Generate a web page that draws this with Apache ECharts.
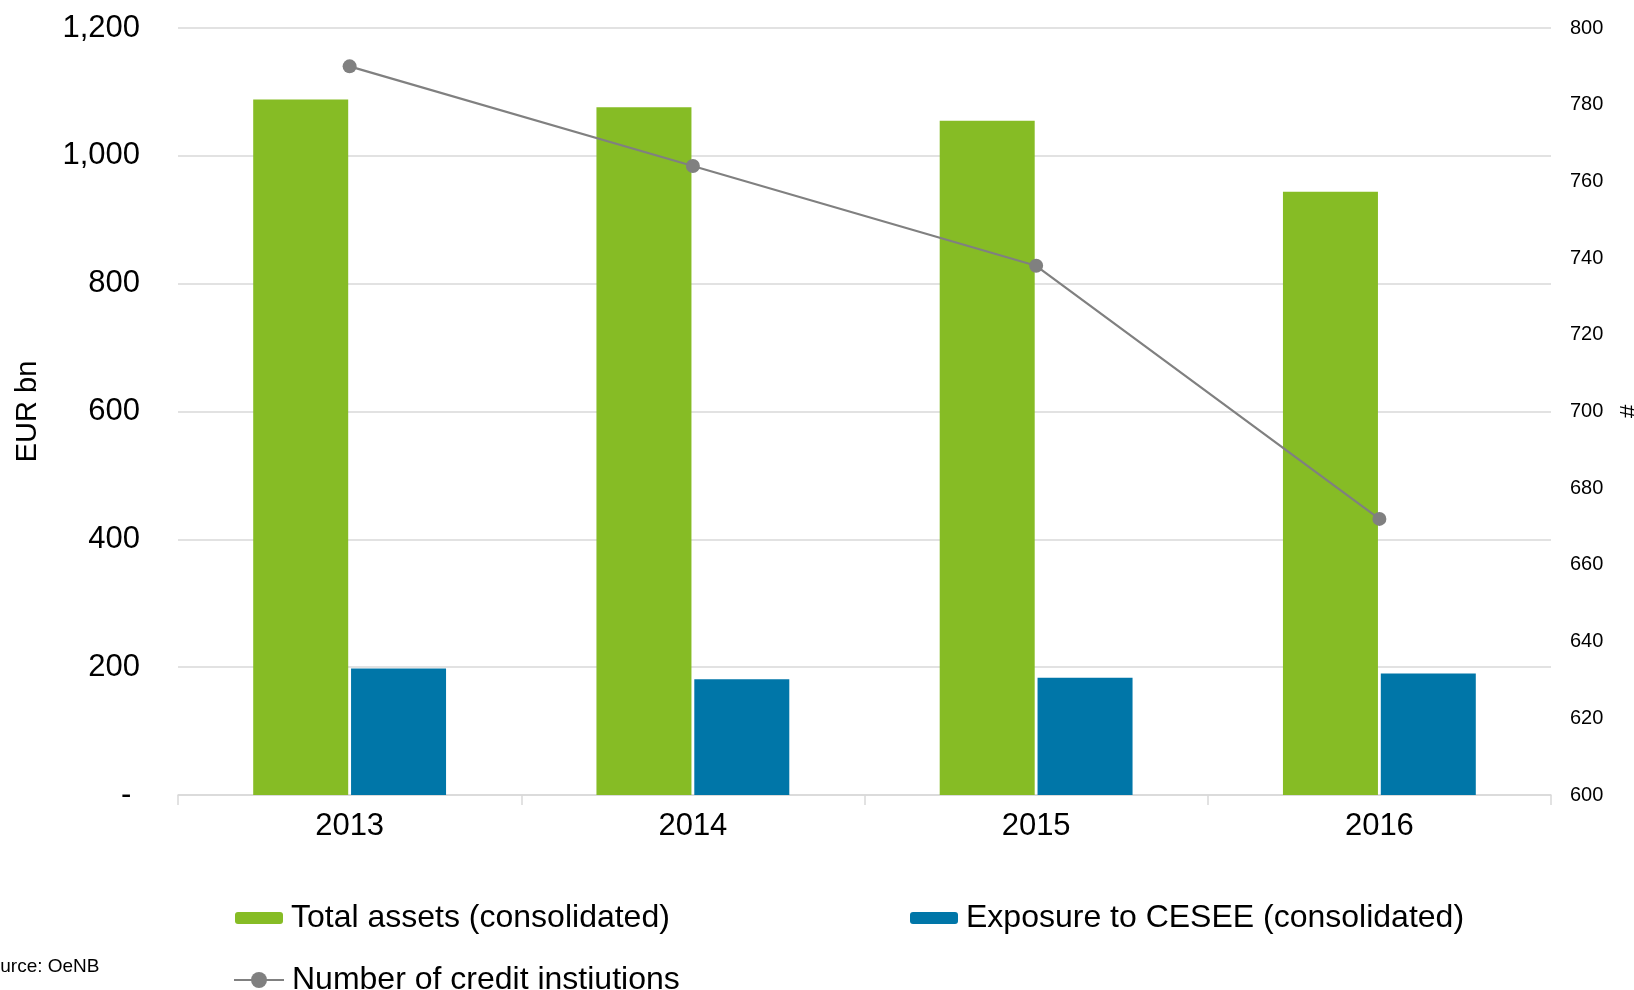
<!DOCTYPE html>
<html>
<head>
<meta charset="utf-8">
<title>Austrian banking sector</title>
<script src="https://cdn.jsdelivr.net/npm/echarts@6/dist/echarts.min.js"></script>
<style>
  html, body { margin: 0; padding: 0; background: #ffffff; }
  #chart { width: 1634px; height: 990px; }
</style>
</head>
<body>
<div id="chart"></div>
<script>
// Years on the category axis
const years = ['2013', '2014', '2015', '2016'];
// EUR bn, left axis
const totalAssets = [1088, 1076, 1055, 944];
const cesseExposure = [198, 181, 183.5, 190];
// Count, right axis
const creditInstitutions = [790, 764, 738, 672];

const seriesNames = [
  'Total assets (consolidated)',
  'Exposure to CESEE (consolidated)',
  'Number of credit instiutions'
];

const FONT = '"Liberation Sans", Arial, sans-serif';
const GREEN = '#86bc25';
const BLUE = '#0076a8';
const GREY = '#808080';

const chart = echarts.init(document.getElementById('chart'), null, { renderer: 'canvas' });

const legendText = { fontFamily: FONT, fontSize: 32, color: '#000000', padding: [0, 0, 0, 3] };

chart.setOption({
  backgroundColor: '#ffffff',
  animation: false,
  textStyle: { fontFamily: FONT, color: '#000000' },
  grid: { left: 178, right: 83, top: 28, bottom: 195, containLabel: false, outerBoundsMode: 'none' },
  legend: [
    {
      data: [seriesNames[0]], left: 230, top: 897, padding: 5,
      itemWidth: 48, itemHeight: 12, textStyle: legendText
    },
    {
      data: [seriesNames[1]], left: 905, top: 897, padding: 5,
      itemWidth: 48, itemHeight: 12, textStyle: legendText
    },
    {
      data: [seriesNames[2]], left: 228, top: 959, padding: 5,
      itemWidth: 50, itemHeight: 20, textStyle: legendText
    }
  ],
  graphic: [
    {
      type: 'text', left: -23, top: 957,
      style: { text: 'Source: OeNB', font: '19px ' + FONT, fill: '#000000' }
    }
  ],
  xAxis: {
    type: 'category',
    data: years,
    boundaryGap: true,
    axisLine: { show: true, lineStyle: { color: '#d9d9d9', width: 1.5 } },
    axisTick: { show: true, length: 10, alignWithLabel: false, lineStyle: { color: '#d9d9d9', width: 1.5 } },
    axisLabel: { fontFamily: FONT, fontSize: 31, color: '#000000', margin: 16 }
  },
  yAxis: [
    {
      type: 'value', min: 0, max: 1200, interval: 200,
      name: 'EUR bn', nameLocation: 'middle', nameRotate: 90, nameGap: 136,
      nameTextStyle: { fontFamily: FONT, fontSize: 29, color: '#000000' },
      axisLine: { show: false }, axisTick: { show: false },
      axisLabel: {
        fontFamily: FONT, fontSize: 31, color: '#000000', margin: 38,
        formatter: v => v === 0 ? '- ' : v.toLocaleString('en-US')
      },
      splitLine: { show: true, lineStyle: { color: '#d9d9d9', width: 1.5 } }
    },
    {
      type: 'value', min: 600, max: 800, interval: 20,
      name: '#', nameLocation: 'middle', nameRotate: -90, nameGap: 64,
      nameTextStyle: { fontFamily: FONT, fontSize: 24, color: '#000000' },
      axisLine: { show: false }, axisTick: { show: false },
      axisLabel: { fontFamily: FONT, fontSize: 20, color: '#000000', margin: 19 },
      splitLine: { show: false }
    }
  ],
  series: [
    {
      name: seriesNames[0], type: 'bar', yAxisIndex: 0, data: totalAssets,
      barWidth: 95, barGap: '3%',
      itemStyle: { color: GREEN }
    },
    {
      name: seriesNames[1], type: 'bar', yAxisIndex: 0, data: cesseExposure,
      barWidth: 95, barGap: '3%',
      itemStyle: { color: BLUE }
    },
    {
      name: seriesNames[2], type: 'line', yAxisIndex: 1, data: creditInstitutions,
      symbol: 'circle', symbolSize: 14,
      lineStyle: { color: GREY, width: 2.2 },
      itemStyle: { color: GREY }
    }
  ]
});
</script>
</body>
</html>
